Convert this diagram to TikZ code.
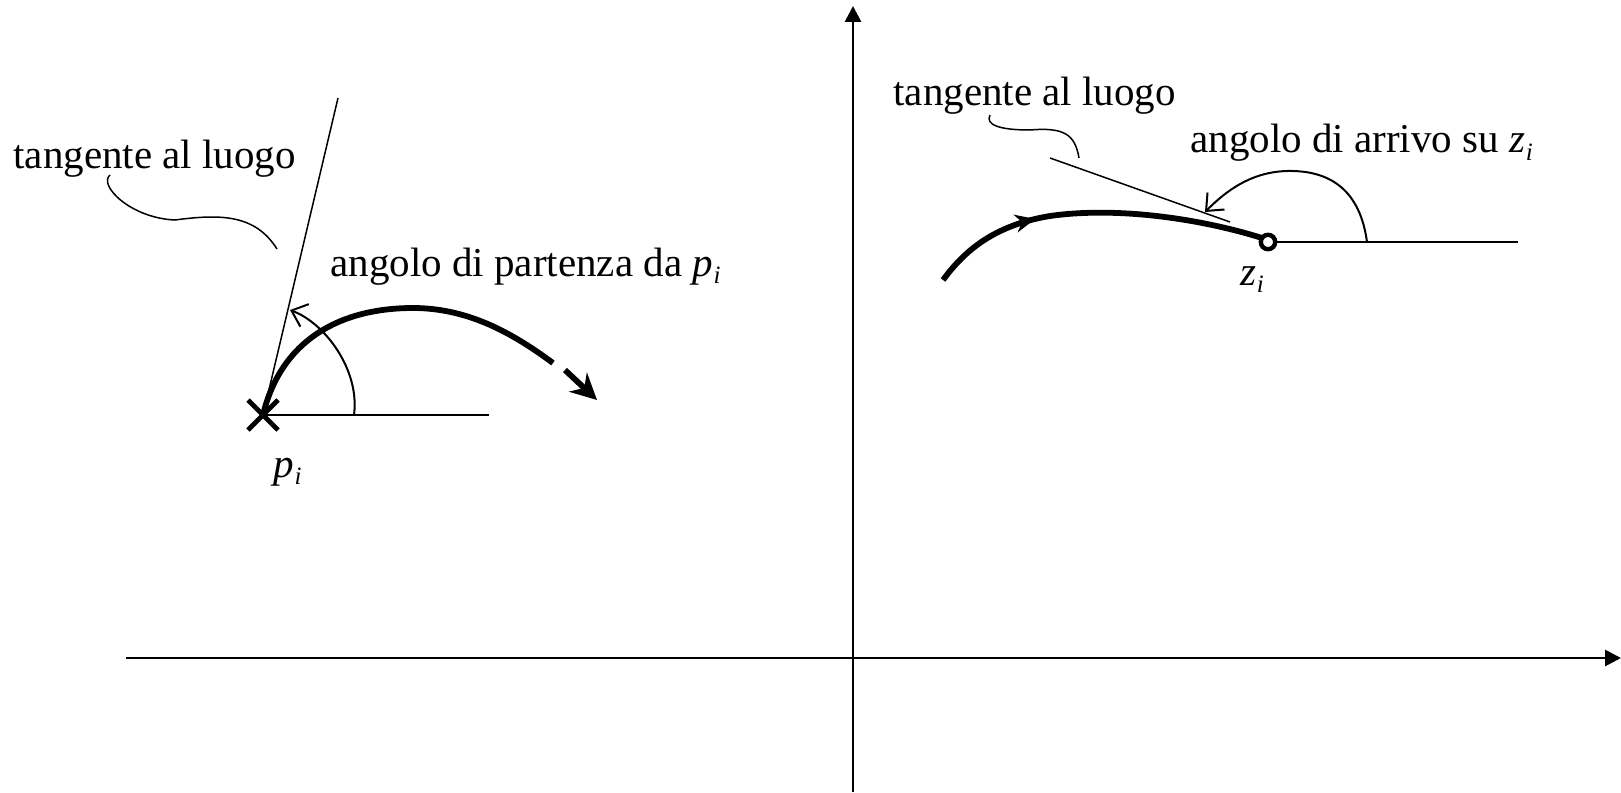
\documentclass[tikz,border=0pt]{standalone}
\usepackage{fontspec}
\setmainfont{Liberation Serif}
\usetikzlibrary{arrows.meta,decorations.markings}
\newcommand{\ivar}[2]{\textit{#1}\kern0.3pt\raisebox{-0.4ex}{\fontsize{12.5}{13}\selectfont\textit{#2}}}
\begin{document}
\begin{tikzpicture}[x=0.5pt,y=-0.5pt,
  lbl/.style={anchor=base west,inner sep=0pt,font=\fontsize{20.5}{24}\selectfont},
  axisline/.style={line width=1.4pt,-{Triangle[length=8pt,width=8pt]}},
  thinline/.style={line width=0.75pt},
  medline/.style={line width=1.3pt},
  arcline/.style={line width=1pt,-{Straight Barb[length=7pt,width=12pt,line width=1pt]}},
  locus/.style={line width=2.9pt},
  midarrow/.style={decoration={markings,mark=at position #1 with {\arrow{Stealth[length=10pt,width=9pt]}}},postaction={decorate}}
]
\useasboundingbox (0,0) rectangle (1621,792);

% axes
\coordinate (ybot) at (853,792);
\coordinate (ytop) at (853,6);
\coordinate (xl) at (126,658);
\coordinate (xr) at (1621,658);
\draw[axisline] (ybot) -- (ytop);
\draw[axisline] (xl) -- (xr);

% ---------- left: departure from pole ----------
\coordinate (P) at (263,415);
\coordinate (Ph) at (489,415);
\coordinate (Pt) at (338,98);
\draw[medline] (P) -- (Ph);
\draw[thinline] (P) -- (Pt);
\coordinate (Pa1) at (354,415);
\coordinate (Pa2) at (290,310);
\draw[arcline] (Pa1) .. controls (360,370) and (325,323) .. (Pa2);
\coordinate (Ltop) at (413,308);
\coordinate (Lend) at (553,363);
\draw[locus] (P) .. controls (281,340) and (340,308) .. (Ltop)
  .. controls (470,308) and (515,335) .. (Lend);
\coordinate (La) at (565,370);
\coordinate (Lb) at (597,400);
\draw[locus,-{Stealth[length=13pt,width=13pt]}] (La) -- (Lb);
\draw[line width=2.4pt] (248,400) -- (278,430) (248,430) -- (278,400);
\coordinate (LL1) at (110,175);
\coordinate (LL2) at (277,249);
\draw[thinline] (LL1) .. controls (98,185) and (130,218) .. (175,220)
  .. controls (220,214) and (255,214) .. (LL2);

\node[lbl] (t1) at (13,168) {tangente al luogo};
\node[lbl] (t2) at (330,276) {angolo di partenza da \ivar{p}{i}};
\node[lbl] (pl) at (273,477) {\ivar{p}{i}};

% ---------- right: arrival at zero ----------
\coordinate (Z) at (1268,242);
\coordinate (Zh) at (1518,242);
\draw[medline] (Z) -- (Zh);
\coordinate (Zt1) at (1050,158);
\coordinate (Zt2) at (1230,222);
\draw[thinline] (Zt1) -- (Zt2);
\coordinate (R0) at (943,280);
\coordinate (R1) at (1050,216);
\coordinate (R2) at (1262,238);
\draw[locus,midarrow=0.33] (R0) .. controls (965,250) and (995,225) .. (R1)
  .. controls (1120,206) and (1205,220) .. (R2);
\coordinate (Za1) at (1367,242);
\coordinate (Za2) at (1205,212);
\draw[arcline] (Za1) .. controls (1360,190) and (1330,170) .. (1287,171)
  .. controls (1250,172) and (1225,192) .. (Za2);
\coordinate (RL1) at (990,115);
\coordinate (RL2) at (1079,158);
\draw[thinline] (RL1) .. controls (985,125) and (1000,130) .. (1030,130)
  .. controls (1065,127) and (1075,135) .. (RL2);
\draw[line width=2.2pt,fill=white] (Z) circle (3.6pt);

\node[lbl] (t3) at (893,105) {tangente al luogo};
\node[lbl] (t4) at (1190,153) {angolo di arrivo su \ivar{z}{i}};
\node[lbl] (zl) at (1240,285) {\ivar{z}{i}};
\end{tikzpicture}
\end{document}
